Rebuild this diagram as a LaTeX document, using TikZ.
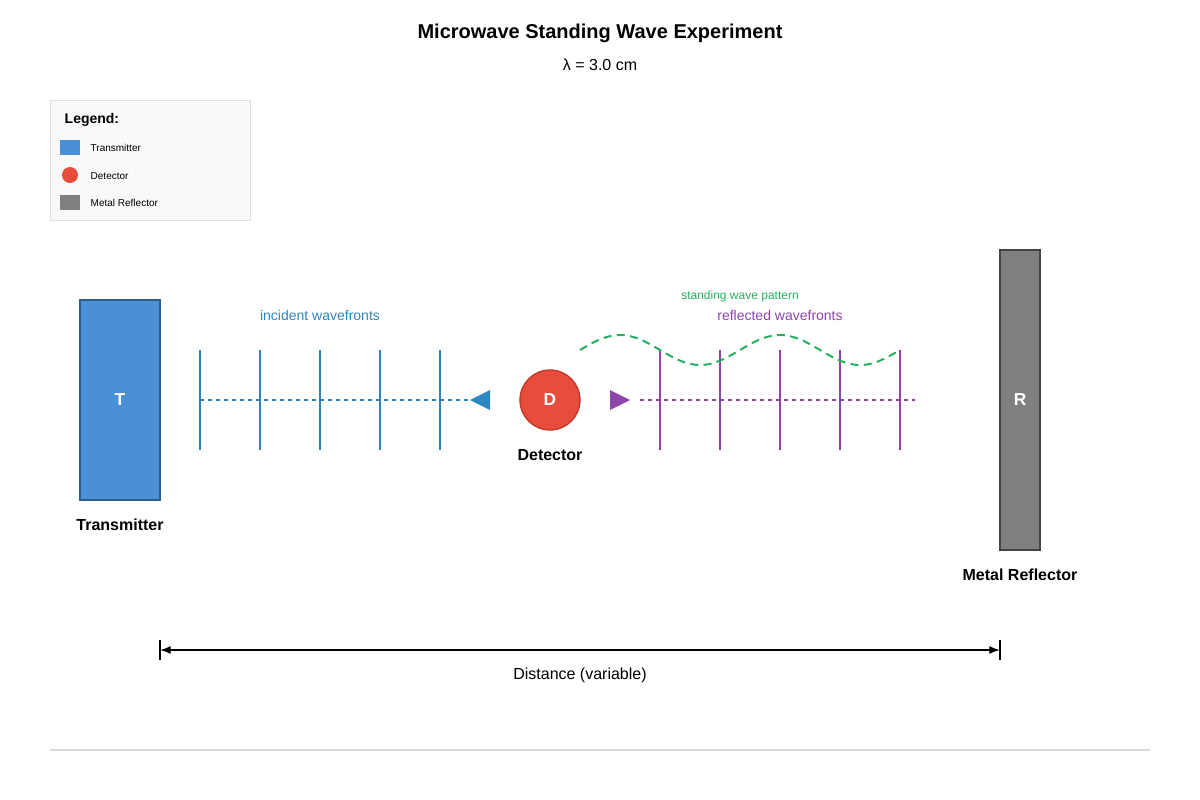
\documentclass[tikz,border=0pt]{standalone}
\usepackage{fontspec}
\setmainfont{Liberation Sans}
\usetikzlibrary{arrows.meta}
\definecolor{tblue}{HTML}{4A90D9}
\definecolor{tblueD}{HTML}{2E5C8A}
\definecolor{wblue}{HTML}{2E86C1}
\definecolor{dred}{HTML}{E74C3C}
\definecolor{dredD}{HTML}{C0392B}
\definecolor{mgray}{HTML}{808080}
\definecolor{mgrayD}{HTML}{444444}
\definecolor{wpurp}{HTML}{8E44AD}
\definecolor{wgreen}{HTML}{27AE60}
\tikzset{
 lbl/.style={font=\fontsize{12}{14}\selectfont\bfseries},
 small/.style={font=\fontsize{7.5}{9}\selectfont, anchor=west},
 front/.style={line width=1.5pt},
}
\begin{document}
\begin{tikzpicture}[x=0.75pt,y=-0.75pt]
\useasboundingbox (0,0) rectangle (1200,800);
\node[font=\fontsize{15}{18}\selectfont\bfseries] (title) at (600,33) {Microwave Standing Wave Experiment};
\node[font=\fontsize{12}{14}\selectfont] (lam) at (600,65) {λ = 3.0 cm};
% legend
\draw[fill=gray!5, draw=gray!25] (50,100) rectangle (250,220);
\node[font=\fontsize{10.5}{12}\selectfont\bfseries, anchor=west] (lg) at (60,120) {Legend:};
\fill[tblue] (60,140) rectangle (80,155);
\node[small] (l1) at (86,148) {Transmitter};
\fill[dred] (70,175) circle (8);
\node[small] (l2) at (86,176) {Detector};
\fill[mgray] (60,195) rectangle (80,210);
\node[small] (l3) at (86,203) {Metal Reflector};
% transmitter
\node[draw=tblueD, fill=tblue, line width=1pt, minimum width=60pt, minimum height=150pt, inner sep=0, text=white, font=\fontsize{13}{15}\selectfont\bfseries] (T) at (120,400) {T};
\node[lbl] (Tl) at (120,525) {Transmitter};
% reflector
\node[draw=mgrayD, fill=mgray, line width=1pt, minimum width=30pt, minimum height=225pt, inner sep=0, text=white, font=\fontsize{13}{15}\selectfont\bfseries] (R) at (1020,400) {R};
\node[lbl] (Rl) at (1020,575) {Metal Reflector};
% detector
\node[circle, draw=dredD, fill=dred, line width=1pt, minimum size=45pt, inner sep=0, text=white, font=\fontsize{13}{15}\selectfont\bfseries] (D) at (550,400) {D};
\node[lbl] (Dl) at (550,455) {Detector};
% incident
\coordinate (ia) at (200,400); \coordinate (ib) at (470,400);
\draw[wblue, dashed, dash pattern=on 3pt off 3pt, line width=1pt] (ia) -- (ib);
\foreach \x in {200,260,...,440} \draw[wblue, front] (\x,350) -- (\x,450);
\fill[wblue] (470,400) -- (490,390) -- (490,410) -- cycle;
\node[wblue, font=\fontsize{10.5}{12}\selectfont] (il) at (320,315) {incident wavefronts};
% reflected
\coordinate (ra) at (640,400); \coordinate (rb) at (915,400);
\draw[wpurp, dashed, dash pattern=on 3pt off 3pt, line width=1pt] (ra) -- (rb);
\foreach \x in {660,720,...,900} \draw[wpurp, front] (\x,350) -- (\x,450);
\fill[wpurp] (630,400) -- (610,390) -- (610,410) -- cycle;
\node[wpurp, font=\fontsize{10.5}{12}\selectfont] (rl) at (780,315) {reflected wavefronts};
% standing wave
\draw[wgreen, line width=1.5pt, dash pattern=on 6pt off 4pt] plot[domain=580:900, samples=100, smooth] (\x,{350-15*sin(2.25*(\x-580))});
\node[wgreen, font=\fontsize{9}{11}\selectfont] (sl) at (740,296) {standing wave pattern};
% distance
\coordinate (d1) at (160,650); \coordinate (d2) at (1000,650);
\draw[line width=1.2pt, {Latex[length=8pt]}-{Latex[length=8pt]}] (d1) -- (d2);
\draw[line width=1.2pt] (160,640) -- (160,660) (1000,640) -- (1000,660);
\node[font=\fontsize{12}{14}\selectfont] (dl) at (580,675) {Distance (variable)};
\draw[gray!30, line width=1pt] (50,750) -- (1150,750);
\end{tikzpicture}
\end{document}
